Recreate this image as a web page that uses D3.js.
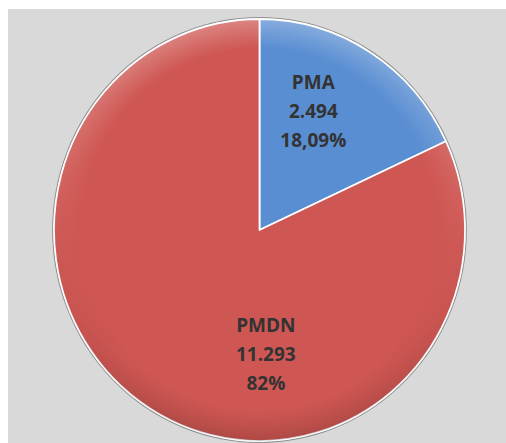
<!DOCTYPE html>
<html>
<head>
<meta charset="utf-8">
<script src="https://cdn.jsdelivr.net/npm/d3@7"></script>
<style>
  body { margin: 0; background: #fff; }
  svg { display: block; }
</style>
</head>
<body>
<div id="chart"></div>
<script>
// data
const categories = ["PMA", "PMDN"];
const values = [2494, 11293];
const percentLabels = ["18,09%", "82%"];

const width = 506, height = 443;
const cx = 259.5, cy = 230, rx = 205.5, ry = 211;
const colors = ["#5a8ed2", "#cf5753"];
// where Excel put each label: angle in degrees from 12 o'clock, radius as share of r
const labelPos = [{ a: 25, r: 0.62 }, { a: 177, r: 0.59 }];

const fmt = d3.formatLocale({ decimal: ",", thousands: ".", grouping: [3], currency: ["", ""] }).format(",d");

const svg = d3.select("#chart").append("svg")
    .attr("width", width)
    .attr("height", height);

svg.append("rect")
    .attr("x", 8).attr("y", 9)
    .attr("width", width - 8).attr("height", height - 9)
    .attr("fill", "#d9d9d9");

const defs = svg.append("defs");

// rim shading: light at top, darker at bottom
const rimGrad = defs.append("linearGradient")
    .attr("id", "rimGrad").attr("x1", 0).attr("y1", 0).attr("x2", 0).attr("y2", 1);
rimGrad.append("stop").attr("offset", "0%").attr("stop-color", "#fff").attr("stop-opacity", 0.28);
rimGrad.append("stop").attr("offset", "45%").attr("stop-color", "#fff").attr("stop-opacity", 0.05);
rimGrad.append("stop").attr("offset", "70%").attr("stop-color", "#000").attr("stop-opacity", 0.03);
rimGrad.append("stop").attr("offset", "100%").attr("stop-color", "#000").attr("stop-opacity", 0.16);

const rimMask = defs.append("radialGradient")
    .attr("id", "rimMaskGrad").attr("cx", "50%").attr("cy", "50%").attr("r", "50%");
rimMask.append("stop").attr("offset", "0.86").attr("stop-color", "#000");
rimMask.append("stop").attr("offset", "1").attr("stop-color", "#fff");
defs.append("mask").attr("id", "rimMask")
    .attr("maskContentUnits", "userSpaceOnUse")
    .append("circle").attr("r", ry).attr("fill", "url(#rimMaskGrad)");

const pie = d3.pie().sort(null).value(d => d);
const arcs = pie(values);
const arc = d3.arc().innerRadius(0).outerRadius(ry);

const g = svg.append("g")
    .attr("transform", `translate(${cx},${cy}) scale(${rx / ry},1)`);

// faint shadow ring round the pie
g.append("circle")
    .attr("r", ry + 1.2)
    .attr("fill", "none")
    .attr("stroke", "#8f8f8f")
    .attr("stroke-width", 1.4);

g.selectAll("path.slice")
    .data(arcs)
    .join("path")
    .attr("class", "slice")
    .attr("d", arc)
    .attr("fill", (d, i) => colors[i])
    .attr("stroke", "#fff")
    .attr("stroke-width", 1.8)
    .attr("stroke-linejoin", "round");

g.append("circle")
    .attr("r", ry)
    .attr("fill", "url(#rimGrad)")
    .attr("mask", "url(#rimMask)");

// labels
const labels = svg.append("g")
    .attr("font-family", "'Open Sans', 'Noto Sans', sans-serif")
    .attr("font-weight", "bold")
    .attr("font-size", 19)
    .attr("fill", "#333")
    .attr("text-anchor", "middle")
    .selectAll("text")
    .data(arcs)
    .join("text")
    .attr("transform", (d, i) => {
        const a = labelPos[i].a * Math.PI / 180;
        const x = cx + Math.sin(a) * labelPos[i].r * rx;
        const y = cy - Math.cos(a) * labelPos[i].r * ry;
        return `translate(${x},${y})`;
    });

labels.each(function (d, i) {
    const lines = [categories[i], fmt(values[i]), percentLabels[i]];
    d3.select(this).selectAll("tspan")
        .data(lines)
        .join("tspan")
        .attr("x", 0)
        .attr("y", (t, j) => (j - 1) * 29)
        .attr("dy", "0.35em")
        .text(t => t);
});
</script>
</body>
</html>
